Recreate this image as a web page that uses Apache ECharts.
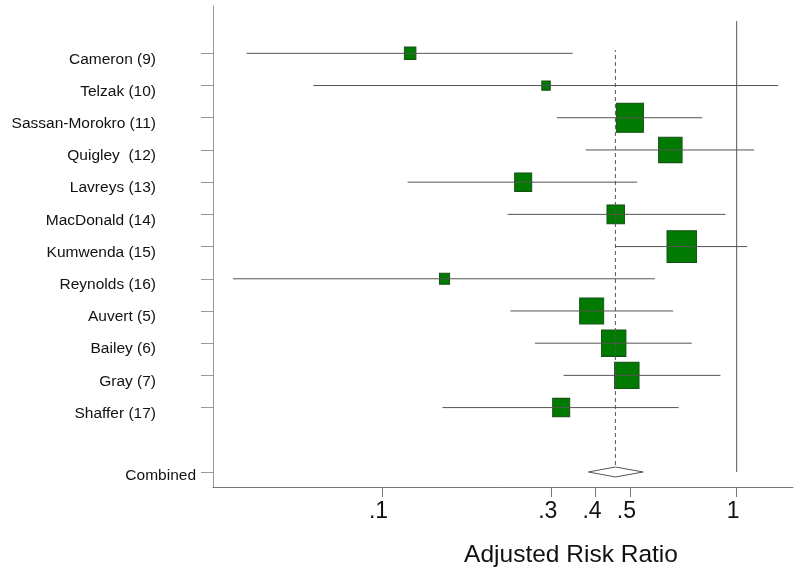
<!doctype html>
<html>
<head>
<meta charset="utf-8">
<title>Adjusted Risk Ratio</title>
<script src="https://cdn.jsdelivr.net/npm/echarts@6/dist/echarts.min.js"></script>
<style>html,body{margin:0;background:#fff;}#chart{width:800px;height:578px;}</style>
</head>
<body>
<div id="chart"></div>
<script>
// studies, top to bottom
var studies = ['Cameron (9)','Telzak (10)','Sassan-Morokro (11)','Quigley  (12)','Lavreys (13)','MacDonald (14)',
               'Kumwenda (15)','Reynolds (16)','Auvert (5)','Bailey (6)','Gray (7)','Shaffer (17)'];
var rr     = [0.12, 0.29, 0.50, 0.65, 0.25, 0.456, 0.70, 0.15, 0.39, 0.45, 0.49, 0.32];
var lower  = [0.0415, 0.064, 0.311, 0.375, 0.118, 0.226, 0.455, 0.038, 0.23, 0.27, 0.325, 0.148];
var upper  = [0.345, 1.31, 0.80, 1.12, 0.524, 0.93, 1.07, 0.588, 0.662, 0.747, 0.90, 0.686];
var weight = [2.6, 1.4, 14.3, 10.8, 5.7, 6.0, 17.0, 2.0, 11.3, 11.7, 11.7, 5.7]; // percent
var combinedRR = 0.455, combinedLo = 0.382, combinedHi = 0.545;
var xTicks = [0.1, 0.3, 0.4, 0.5, 1];

var font = 'Liberation Sans, Arial, Helvetica, sans-serif';
var nRows = studies.length + 1;          // row 0 = Combined, one blank row above it
function rowOf(i){ return nRows - i; }   // study i -> y position

var yTicks = [0];
for (var i = 0; i < studies.length; i++) yTicks.push(rowOf(i));

var squares = [], ci = [];
for (var i = 0; i < studies.length; i++) {
  squares.push([rr[i], rowOf(i), weight[i]]);
  ci.push([lower[i], upper[i], rowOf(i)]);
}

var chart = echarts.init(document.getElementById('chart'));

chart.setOption({
  animation: false,
  grid: {left: 213, right: 7, top: 6, bottom: 91},
  xAxis: {
    type: 'log',
    logBase: 10,
    min: 0.03336,
    max: 1.4416,
    name: 'Adjusted Risk Ratio',
    nameLocation: 'middle',
    nameGap: 56,
    nameTextStyle: {fontFamily: font, fontSize: 24.5, color: '#111', padding: [0, 0, 0, 136]},
    axisLine: {onZero: false, lineStyle: {color: '#777', width: 1}},
    axisTick: {customValues: xTicks, length: 10, lineStyle: {color: '#777'}},
    axisLabel: {
      customValues: xTicks, margin: 13,
      fontFamily: font, fontSize: 23, color: '#111', padding: [0, 7, 0, 0],
      formatter: function(v){ return String(v).replace(/^0\./, '.'); }
    },
    splitLine: {show: false},
    minorTick: {show: false}
  },
  yAxis: {
    type: 'value',
    min: -0.4658,
    max: 14.47,
    axisLine: {show: true, onZero: false, lineStyle: {color: '#999', width: 1}},
    axisTick: {customValues: yTicks, length: 12, lineStyle: {color: '#999'}},
    axisLabel: {
      customValues: yTicks, margin: 17, color: '#111',
      fontFamily: font, fontSize: 15.5,
      formatter: function(v){
        if (v === 0) return '{c|Combined}';
        return '{s|' + studies[nRows - v] + '}';
      },
      rich: {
        c: {fontFamily: font, fontSize: 15.5, color: '#111', padding: [7, 0, 0, 0]},
        s: {fontFamily: font, fontSize: 15.5, color: '#111', padding: [12, 40, 0, 0]}
      }
    },
    splitLine: {show: false}
  },
  series: [
    {
      // weighted boxes
      type: 'scatter',
      symbol: 'rect',
      z: 2,
      data: squares,
      symbolSize: function(val){
        var w = 7.15 * Math.sqrt(val[2]);
        return [w, w * 1.08];
      },
      itemStyle: {color: '#007a00', borderColor: '#145214', borderWidth: 1, opacity: 1},
      emphasis: {disabled: true}
    },
    {
      // confidence intervals
      type: 'custom',
      z: 3,
      data: ci,
      encode: {x: [0, 1], y: 2},
      renderItem: function(params, api){
        var a = api.coord([api.value(0), api.value(2)]);
        var b = api.coord([api.value(1), api.value(2)]);
        return {type: 'line', shape: {x1: a[0], y1: a[1], x2: b[0], y2: b[1]},
                style: {stroke: '#555', lineWidth: 1}};
      }
    },
    {
      // null line at 1 and pooled estimate line
      type: 'custom',
      z: 4,
      data: [[1, 0, nRows + 1, 0], [combinedRR, 0, nRows + 0.1, 1]],
      encode: {x: 0, y: [1, 2]},
      renderItem: function(params, api){
        var a = api.coord([api.value(0), api.value(1)]);
        var b = api.coord([api.value(0), api.value(2)]);
        var dashed = api.value(3) === 1;
        return {type: 'line', shape: {x1: a[0], y1: a[1], x2: b[0], y2: b[1]},
                style: {stroke: '#555', lineWidth: 1, lineDash: dashed ? [4, 3] : null}};
      }
    },
    {
      // combined diamond
      type: 'custom',
      z: 5,
      data: [[combinedRR, combinedLo, combinedHi, 0]],
      encode: {x: [0, 1, 2], y: 3},
      renderItem: function(params, api){
        var c = api.coord([api.value(0), api.value(3)]);
        var l = api.coord([api.value(1), api.value(3)]);
        var r = api.coord([api.value(2), api.value(3)]);
        return {type: 'polygon',
                shape: {points: [[l[0], c[1]], [c[0], c[1] - 5], [r[0], c[1]], [c[0], c[1] + 5]]},
                style: {fill: '#fff', stroke: '#555', lineWidth: 1}};
      }
    }
  ]
});
</script>
</body>
</html>
